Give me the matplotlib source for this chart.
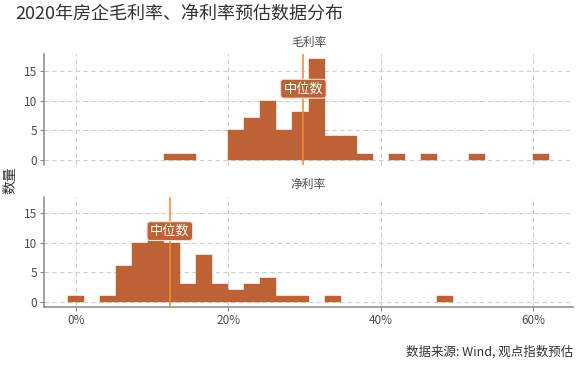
import numpy as np
import matplotlib
matplotlib.use("Agg")
from matplotlib import pyplot as plt
from matplotlib.ticker import FuncFormatter

plt.rcParams['font.family'] = ['Noto Sans CJK SC', 'DejaVu Sans']

# histogram bins (percent), 30 bins of equal width
bin_start = -0.97
bin_width = 2.1
gross_counts = [0, 0, 0, 0, 0, 0, 1, 1, 0, 0,
                5, 7, 10, 5, 8, 17, 4, 4, 1, 0,
                1, 0, 1, 0, 0, 1, 0, 0, 0, 1]
net_counts = [1, 0, 1, 6, 10, 12, 10, 3, 8, 3,
              2, 3, 4, 1, 1, 0, 1, 0, 0, 0,
              0, 0, 0, 1, 0, 0, 0, 0, 0, 0]
gross_median = 29.86
net_median = 12.34
panel_titles = ['毛利率', '净利率']
x_ticks = [0, 20, 40, 60]
y_ticks = [0, 5, 10, 15]

BAR = '#BD6236'
LINE = '#F28A2E'
GRID = '#CFCFCF'
AXC = '#8A8A8A'
TXT = '#4D4D4D'

W, H = 580, 367
fig = plt.figure(figsize=(W / 100, H / 100), dpi=100)

def px_axes(left, top, right, bottom):
    return fig.add_axes([left / W, 1 - bottom / H, (right - left) / W, (bottom - top) / H])

ax_top = px_axes(44.3, 54, 572.7, 165)
ax_bot = px_axes(44.3, 196.7, 572.7, 306.7)

lefts = bin_start + bin_width * np.arange(len(gross_counts))

for ax, counts, med, name, show_x in [
    (ax_top, gross_counts, gross_median, panel_titles[0], False),
    (ax_bot, net_counts, net_median, panel_titles[1], True),
]:
    ax.set_xlim(-4.12, 65.18)
    ax.set_ylim(-0.85, 17.85)
    ax.set_xticks(x_ticks)
    ax.set_yticks(y_ticks)
    ax.grid(True, color=GRID, linestyle=(0, (4, 3)), linewidth=0.8)
    ax.set_axisbelow(True)

    counts = np.array(counts)
    keep = counts > 0  # empty bins draw nothing
    ax.bar(lefts[keep], counts[keep], width=bin_width, align='edge', color=BAR,
           edgecolor=BAR, linewidth=0.3, zorder=2)
    ax.axvline(med, color=LINE, linewidth=1.4, alpha=0.8, zorder=3)
    ax.text(med, 12, '中位数', ha='center', va='center', fontsize=9.5,
            color='white', zorder=5,
            bbox=dict(boxstyle='round,pad=0.22,rounding_size=0.25',
                      facecolor=BAR, edgecolor='#F5E0D6', linewidth=0.8))

    ax.text(0.5, 1 + 12 / 111, name, transform=ax.transAxes, ha='center',
            va='center', fontsize=8.5, color=TXT)

    for s in ['top', 'right']:
        ax.spines[s].set_visible(False)
    ax.spines['left'].set_color(AXC)
    ax.spines['left'].set_linewidth(1.1)
    ax.spines['bottom'].set_color(AXC)
    ax.spines['bottom'].set_linewidth(1.1)
    ax.spines['bottom'].set_visible(show_x)

    ax.tick_params(axis='y', colors=AXC, labelcolor=TXT, labelsize=8.5,
                   length=3, width=0.8, pad=2)
    ax.tick_params(axis='x', colors=AXC, labelcolor=TXT, labelsize=8.5,
                   length=3 if show_x else 0, width=0.8, pad=2,
                   labelbottom=show_x)
    ax.xaxis.set_major_formatter(FuncFormatter(lambda v, p: f'{v:.0f}%'))

fig.text(15 / W, 1 - 14 / H, '2020年房企毛利率、净利率预估数据分布',
         ha='left', va='center', fontsize=13, color='#333333')
fig.text(10 / W, 1 - 180 / H, '数量', rotation=90, ha='center', va='center',
         fontsize=10, color='#333333')
fig.text(573 / W, 1 - 352 / H, '数据来源: Wind, 观点指数预估',
         ha='right', va='center', fontsize=9, color='#333333')

fig.savefig('out.png', dpi=100)
